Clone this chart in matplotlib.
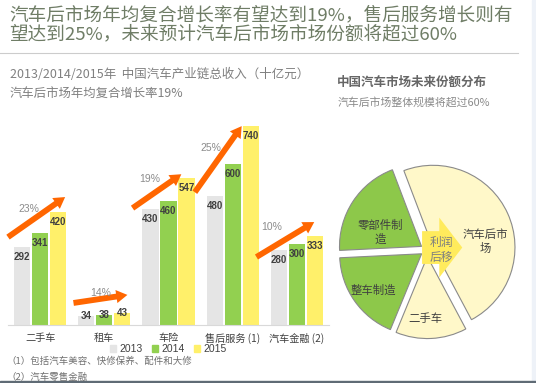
import matplotlib
matplotlib.use("Agg")
import matplotlib.pyplot as plt
from matplotlib.patches import Rectangle, FancyArrow
from matplotlib.lines import Line2D
import numpy as np

plt.rcParams['font.family'] = ['Noto Sans CJK SC', 'DejaVu Sans']

# revenue by segment, billion CNY
categories = ["二手车", "租车", "车险", "售后服务 (1)", "汽车金融 (2)"]
years = ["2013", "2014", "2015"]
rev_2013 = [292, 34, 430, 480, 280]
rev_2014 = [341, 38, 460, 600, 300]
rev_2015 = [420, 43, 547, 740, 333]
cagr_labels = ["23%", "14%", "19%", "25%", "10%"]

# trend arrows: x as offset from group centre, y in revenue units
arrow_x0 = [-0.50, -0.48, -0.56, -0.59, -0.63]
arrow_y0 = [327, 82, 435, 494, 253]
arrow_x1 = [0.39, 0.36, 0.20, 0.14, 0.27]
arrow_y1 = [476, 112, 561, 740, 383]
cagr_dx = [-0.17, -0.06, -0.30, -0.34, -0.39]
cagr_y = [431, 119, 543, 658, 364]

# future market share
share_labels = ["汽车后市\n场", "零部件制\n造", "整车制造", "二手车"]
share_values = [48, 20, 18, 14]
share_label_pos = [(0.71, 0.10), (-0.57, 0.22), (-0.66, -0.49), (-0.02, -0.84)]

bar_colors = ["#e5e5e5", "#92d050", "#fff06a"]
pie_colors = ["#fff8c9", "#8dc84a", "#8dc84a", "#fff8c9"]
orange = "#ff6600"

W, H = 536, 383
fig = plt.figure(figsize=(W / 100, H / 100), dpi=100)

def fx(px):
    return px / W

def fy(py):
    return 1 - py / H

# header
title_c = "#6f7d66"
fig.text(fx(9), fy(15), "汽车后市场年均复合增长率有望达到19%，售后服务增长则有",
         fontsize=13.4, color=title_c, va="center")
fig.text(fx(9), fy(34), "望达到25%，未来预计汽车后市场市场份额将超过60%",
         fontsize=13.4, color=title_c, va="center")
fig.add_artist(Line2D([0, fx(518)], [fy(53), fy(53)], color="#cccccc", lw=0.8))

fig.text(fx(10), fy(74), "2013/2014/2015年  中国汽车产业链总收入（十亿元）",
         fontsize=9, color="#808080", va="center")
fig.text(fx(10), fy(94), "汽车后市场年均复合增长率19%",
         fontsize=8.9, color="#808080", va="center")

# bar chart
ax = fig.add_axes([fx(8), fy(325), fx(329) - fx(8), fy(110) - fy(325)])
x = np.arange(len(categories))
width = 0.25
step = 0.28
series = [rev_2013, rev_2014, rev_2015]
for i, (vals, col, yr) in enumerate(zip(series, bar_colors, years)):
    xs = x + (i - 1) * step
    ax.bar(xs, vals, width=width, color=col, label=yr)
    for xi, v in zip(xs, vals):
        off = -7.2 if v >= 100 else 0
        ax.annotate(str(v), (xi, v), xytext=(0, off), textcoords="offset points",
                    ha="center", va="center", fontsize=7, fontweight="bold",
                    color="#404040", family="Liberation Sans")

for i in range(len(categories)):
    ax.annotate("", xy=(x[i] + arrow_x1[i], arrow_y1[i]),
                xytext=(x[i] + arrow_x0[i], arrow_y0[i]),
                arrowprops=dict(arrowstyle="simple,head_length=0.8,head_width=0.95,tail_width=0.42",
                                mutation_scale=10, color=orange, lw=0,
                                shrinkA=0, shrinkB=0))
    ax.text(x[i] + cagr_dx[i], cagr_y[i], cagr_labels[i], ha="center", va="center",
            fontsize=7.5, color="#8c8c8c", family="Liberation Sans")

ax.set_xlim(-0.5, 4.5)
ax.set_ylim(0, 800)
ax.set_xticks(x)
ax.set_xticklabels(categories, fontsize=7.3, color="#404040")
ax.tick_params(axis="x", length=0, pad=6)
ax.set_yticks([])
for s in ["top", "right", "left"]:
    ax.spines[s].set_visible(False)
ax.spines["bottom"].set_color("#d9d9d9")
ax.patch.set_alpha(0)

handles = [Rectangle((0, 0), 1, 1, color=c) for c in bar_colors]
fig.legend(handles, years, loc="center", bbox_to_anchor=(fx(168), fy(349)), ncol=3,
           frameon=False, handlelength=0.6, handleheight=0.6,
           handletextpad=0.3, columnspacing=0.9, labelcolor="#404040",
           prop={"family": "Liberation Sans", "size": 7.5})

fig.text(fx(6), fy(361), "（1）包括汽车美容、快修保养、配件和大修",
         fontsize=6.8, color="#707070", va="center")
fig.text(fx(6), fy(377), "（2）汽车零售金融",
         fontsize=6.8, color="#707070", va="center")

# pie chart
fig.text(fx(412), fy(82), "中国汽车市场未来份额分布", fontsize=9, fontweight="bold",
         color="#666666", ha="center", va="center")
fig.text(fx(414), fy(102), "汽车后市场整体规模将超过60%", fontsize=7.8,
         color="#8a8a8a", ha="center", va="center")

cx, cy, R = 427, 250, 82
half = 1.15 * R
ax2 = fig.add_axes([fx(cx - half), fy(cy + half), 2 * half / W, 2 * half / H])
ax2.pie(share_values, explode=[0.08] * len(share_values), startangle=-62,
        counterclock=True, colors=pie_colors,
        wedgeprops=dict(edgecolor="#8a8a8a", linewidth=0.8))
ax2.set_xlim(-1.15, 1.15)
ax2.set_ylim(-1.15, 1.15)
ax2.set_axis_off()
for lab, (px, py) in zip(share_labels, share_label_pos):
    ax2.text(px, py, lab, ha="center", va="center", fontsize=8.2, color="#404040",
             linespacing=1.3)
ax2.add_patch(FancyArrow(-0.06, 0.03, 0.49, 0, width=0.40, head_width=0.73,
                         head_length=0.28, length_includes_head=True,
                         color="#ffeb5c", lw=0))
ax2.text(0.18, 0.0, "利润\n后移", ha="center", va="center", fontsize=8.5,
         color="#7f7f7f", linespacing=1.3)

# frame decorations
fig.add_artist(Rectangle((fx(532), 0), fx(4), 1, color="#eef2f8",
                         transform=fig.transFigure, zorder=0))
fig.add_artist(Rectangle((0, 0), 1, 2.5 / H, color="#5f6b75",
                         transform=fig.transFigure))

fig.savefig("out.png", dpi=100)
